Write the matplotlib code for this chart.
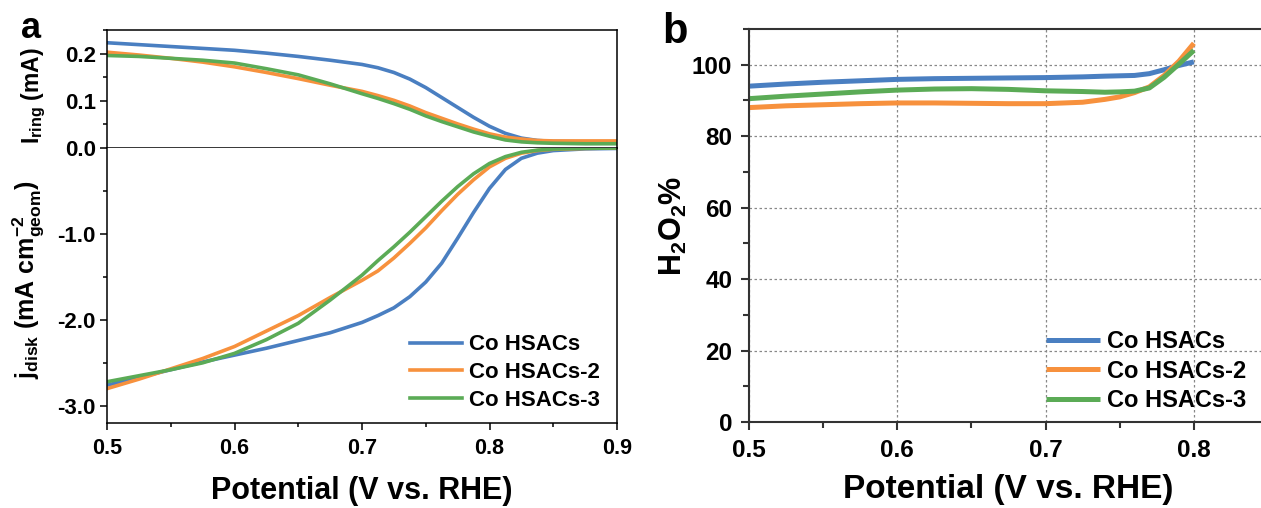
import numpy as np
import matplotlib
matplotlib.use('Agg')
from matplotlib import pyplot as plt
from matplotlib.ticker import MultipleLocator

plt.rcParams['font.family'] = ['Liberation Sans', 'DejaVu Sans']
plt.rcParams['font.weight'] = 'bold'
plt.rcParams['mathtext.fontset'] = 'custom'
plt.rcParams['mathtext.rm'] = 'Liberation Sans:bold'
plt.rcParams['mathtext.it'] = 'Liberation Sans:bold'
plt.rcParams['mathtext.bf'] = 'Liberation Sans:bold'

labels = ['Co HSACs', 'Co HSACs-2', 'Co HSACs-3']
colors = ['#4a7fc1', '#f7913d', '#5bab56']

# panel a: RRDE (potential, V vs RHE)
pot_a = [0.50, 0.525, 0.55, 0.575, 0.60, 0.625, 0.65, 0.675, 0.70, 0.7125, 0.725,
         0.7375, 0.75, 0.7625, 0.775, 0.7875, 0.80, 0.8125, 0.825, 0.8375, 0.85, 0.875, 0.90]
ring_1 = [0.223, 0.219, 0.215, 0.211, 0.207, 0.201, 0.194, 0.186, 0.177, 0.170, 0.160,
          0.146, 0.128, 0.107, 0.086, 0.065, 0.046, 0.031, 0.021, 0.016, 0.014, 0.013, 0.013]
ring_2 = [0.203, 0.197, 0.190, 0.182, 0.172, 0.160, 0.147, 0.133, 0.120, 0.111, 0.101,
          0.089, 0.075, 0.063, 0.051, 0.040, 0.030, 0.023, 0.019, 0.016, 0.015, 0.015, 0.015]
ring_3 = [0.196, 0.194, 0.190, 0.186, 0.180, 0.168, 0.155, 0.136, 0.115, 0.105, 0.094,
          0.082, 0.068, 0.056, 0.045, 0.034, 0.025, 0.017, 0.013, 0.011, 0.010, 0.009, 0.009]
disk_1 = [-2.76, -2.67, -2.58, -2.49, -2.41, -2.33, -2.24, -2.15, -2.03, -1.95, -1.86,
          -1.73, -1.56, -1.34, -1.05, -0.75, -0.47, -0.25, -0.12, -0.06, -0.03, -0.01, -0.005]
disk_2 = [-2.80, -2.69, -2.57, -2.45, -2.31, -2.13, -1.95, -1.74, -1.54, -1.43, -1.28,
          -1.11, -0.93, -0.73, -0.54, -0.37, -0.22, -0.12, -0.06, -0.03, -0.015, -0.005, 0.0]
disk_3 = [-2.72, -2.65, -2.58, -2.50, -2.39, -2.23, -2.04, -1.77, -1.48, -1.31, -1.15,
          -0.98, -0.80, -0.62, -0.45, -0.30, -0.18, -0.10, -0.05, -0.025, -0.012, -0.004, 0.0]

# panel b: H2O2 selectivity
pot_b = [0.50, 0.525, 0.55, 0.575, 0.60, 0.625, 0.65, 0.675, 0.70, 0.725, 0.74, 0.75,
         0.76, 0.77, 0.78, 0.79, 0.80]
h2o2_1 = [94.0, 94.6, 95.1, 95.5, 95.9, 96.1, 96.2, 96.3, 96.4, 96.6, 96.8, 96.9,
          97.0, 97.5, 98.6, 99.8, 100.8]
h2o2_2 = [88.0, 88.5, 88.8, 89.1, 89.3, 89.3, 89.2, 89.1, 89.1, 89.5, 90.3, 91.0,
          92.2, 93.8, 97.0, 101.0, 106.0]
h2o2_3 = [90.5, 91.2, 91.8, 92.4, 92.9, 93.2, 93.3, 93.1, 92.7, 92.5, 92.3, 92.4,
          92.6, 93.5, 96.5, 100.2, 104.0]

W, H = 1261, 508
fig = plt.figure(figsize=(W / 100, H / 100), dpi=100)

def px(l, t, r, b):
    return [l / W, 1 - b / H, (r - l) / W, (b - t) / H]

ax_r = fig.add_axes(px(107, 30, 617, 148))
ax_d = fig.add_axes(px(107, 148, 617, 423))

for ys, c, lab in zip([ring_1, ring_2, ring_3], colors, labels):
    ax_r.plot(pot_a, ys, color=c, lw=2.6, label=lab)
for ys, c, lab in zip([disk_1, disk_2, disk_3], colors, labels):
    ax_d.plot(pot_a, ys, color=c, lw=2.6, label=lab)

ax_r.set_xlim(0.5, 0.9)
ax_r.set_ylim(0, 0.25)
ax_d.set_xlim(0.5, 0.9)
ax_d.set_ylim(-3.2, 0)

for ax in (ax_r, ax_d):
    for s in ax.spines.values():
        s.set_linewidth(1.1)
    ax.xaxis.set_major_locator(MultipleLocator(0.1))
    ax.xaxis.set_minor_locator(MultipleLocator(0.05))
    ax.tick_params(which='both', direction='out', width=1.1, labelsize=16, pad=3)
    ax.tick_params(which='major', length=5)
    ax.tick_params(which='minor', length=3)
ax_d.spines['top'].set_visible(False)
ax_r.tick_params(axis='x', which='both', bottom=False, labelbottom=False)
ax_r.yaxis.set_minor_locator(MultipleLocator(0.05))
ax_r.set_yticks([0.0, 0.1, 0.2])
ax_r.set_yticklabels(['0.0', '0.1', '0.2'])
ax_d.set_yticks([-3.0, -2.0, -1.0])
ax_d.set_yticklabels(['-3.0', '-2.0', '-1.0'])
ax_d.set_yticks([-2.5, -1.5, -0.5], minor=True)
ax_d.set_xticks([0.5, 0.6, 0.7, 0.8, 0.9])
ax_d.set_xticklabels(['0.5', '0.6', '0.7', '0.8', '0.9'])
ax_d.tick_params(axis='x', labelsize=15.5, pad=6)

ax_r.set_ylabel(r'I$_{\rm ring}$ (mA)', fontsize=16.5, fontweight='bold')
ax_r.yaxis.set_label_coords(-0.116, 0.44)
ax_d.set_ylabel(r'j$_{\rm disk}$ (mA cm$^{-2}_{\rm geom}$)', fontsize=18, fontweight='bold')
ax_d.yaxis.set_label_coords(-0.12, 0.52)
ax_d.set_xlabel('Potential (V vs. RHE)', fontsize=22, fontweight='bold', labelpad=12)

ax_d.legend(loc='lower left', bbox_to_anchor=(0.595, 0.045), frameon=False, fontsize=16,
            handlelength=2.3, handletextpad=0.35, labelspacing=0.3, borderpad=0,
            borderaxespad=0)

# panel b
ax_b = fig.add_axes(px(749, 29, 1268, 422))
for ys, c, lab in zip([h2o2_1, h2o2_2, h2o2_3], colors, labels):
    ax_b.plot(pot_b, ys, color=c, lw=3.6, label=lab, solid_capstyle='butt')
ax_b.set_xlim(0.5, 0.85)
ax_b.set_ylim(0, 110)
ax_b.set_xticks([0.5, 0.6, 0.7, 0.8])
ax_b.set_xticklabels(['0.5', '0.6', '0.7', '0.8'])
ax_b.xaxis.set_minor_locator(MultipleLocator(0.05))
ax_b.set_yticks([0, 20, 40, 60, 80, 100])
ax_b.yaxis.set_minor_locator(MultipleLocator(10))
ax_b.grid(True, which='major', ls=(0, (2, 2)), color='#888888', lw=0.9)
ax_b.set_axisbelow(True)
for s in ax_b.spines.values():
    s.set_linewidth(1.5)
    s.set_color('#333333')
ax_b.tick_params(which='both', direction='out', width=1.5, color='#333333', labelsize=17.5)
ax_b.tick_params(which='major', length=6, pad=6)
ax_b.tick_params(which='minor', length=4)
ax_b.set_ylabel(r'H$_2$O$_2$%', fontsize=22, fontweight='bold', labelpad=2)
ax_b.set_xlabel('Potential (V vs. RHE)', fontsize=24, fontweight='bold', labelpad=9)
ax_b.legend(loc='lower left', bbox_to_anchor=(0.572, 0.025), frameon=False, fontsize=17,
            handlelength=2.3, handletextpad=0.3, labelspacing=0.28, borderpad=0,
            borderaxespad=0)

fig.text(0.017, 0.926, 'a', fontsize=26, fontweight='bold', va='baseline')
fig.text(0.525, 0.915, 'b', fontsize=30, fontweight='bold', va='baseline')

fig.savefig('out.png', dpi=100)
